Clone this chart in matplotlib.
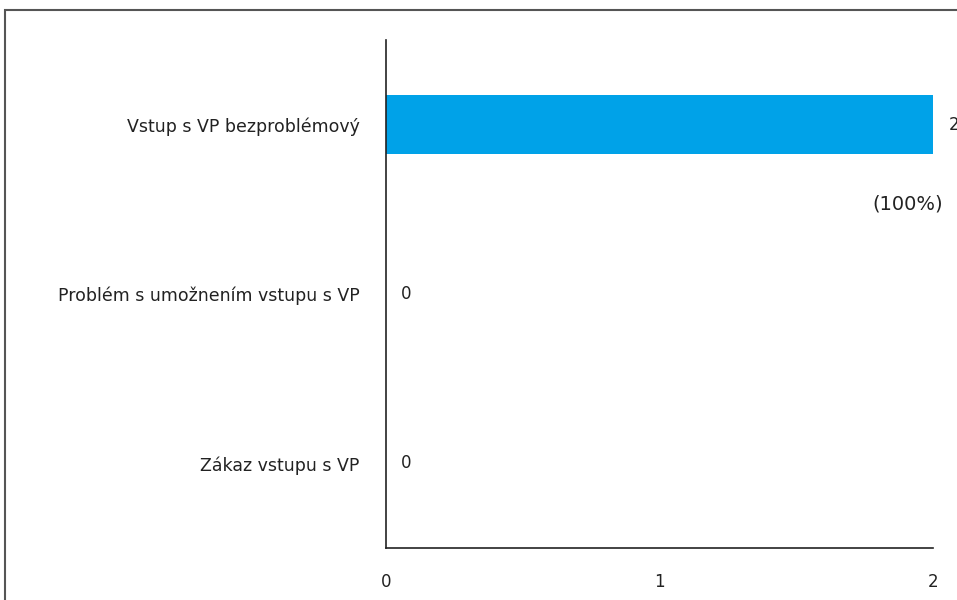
import matplotlib.pyplot as plt
from matplotlib.patches import Rectangle

# data
categories = ['Vstup s VP bezproblémový', 'Problém s umožnením vstupu s VP', 'Zákaz vstupu s VP']
counts = [2, 0, 0]
percents = ['(100%)', '', '']

plt.rcParams['font.family'] = ['DejaVu Sans']

fig = plt.figure(figsize=(9.57, 6), dpi=100)
ax = fig.add_axes([386 / 957, 1 - 548 / 600, (933 - 386) / 957, (548 - 40) / 600])

# outer chart frame (cropped at right and bottom)
fig.patches.append(Rectangle((5 / 957, -0.1), 1.2, 1 - 10 / 600 + 0.1,
                             transform=fig.transFigure, fill=False,
                             edgecolor='#555555', linewidth=1.5))

y = list(range(len(categories)))
ax.barh(y, counts, height=0.35, color='#00a2e8')
ax.set_ylim(len(categories) - 0.5, -0.5)
ax.set_xlim(0, 2)
ax.set_xticks([0, 1, 2])
ax.set_yticks(y)
ax.set_yticklabels(categories, fontsize=12.5, color='#222222')
ax.tick_params(axis='y', length=0, pad=19)
ax.tick_params(axis='x', length=0, pad=18, labelsize=12, labelcolor='#222222')

for s in ['top', 'right']:
    ax.spines[s].set_visible(False)
for s in ['left', 'bottom']:
    ax.spines[s].set_color('#222222')
    ax.spines[s].set_linewidth(1.2)

for i, (c, p) in enumerate(zip(counts, percents)):
    ax.annotate(str(c), (c, i), xytext=(11, 0), textcoords='offset points',
                va='center', ha='left', fontsize=12, color='#222222',
                annotation_clip=False)
    if p:
        ax.annotate(p, (c, i), xytext=(7, -57), textcoords='offset points',
                    va='center', ha='right', fontsize=14, color='#222222',
                    annotation_clip=False)

fig.savefig('out.png', dpi=100)
